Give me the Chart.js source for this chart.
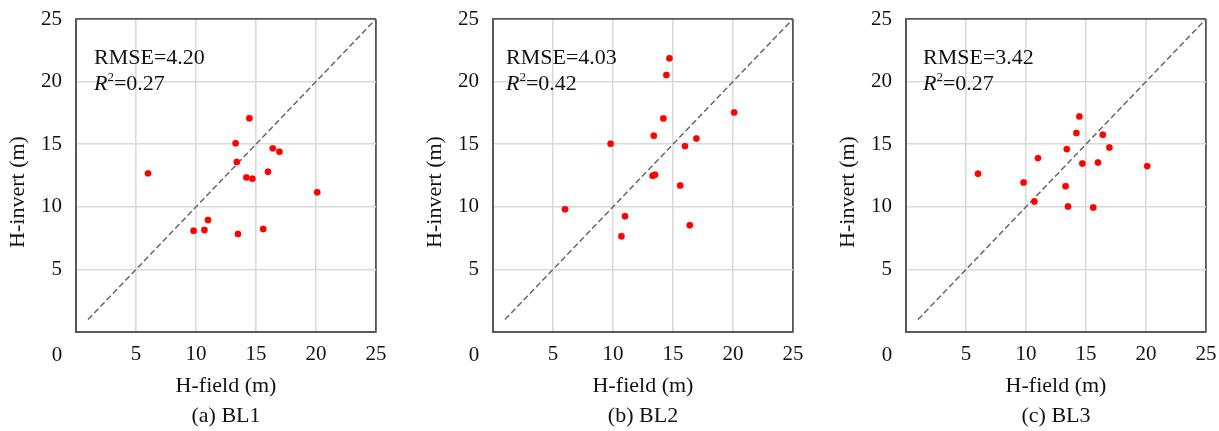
<!DOCTYPE html>
<html>
<head>
<meta charset="utf-8">
<script src="https://cdn.jsdelivr.net/npm/chart.js@4.4.1/dist/chart.umd.min.js"></script>
<style>
  body { margin: 0; background: #fff; width: 1219px; height: 431px; overflow: hidden; position: relative; }
  canvas { position: absolute; top: 0; }
</style>
</head>
<body>
<canvas id="bl1" width="389" height="431" style="left:0px"></canvas>
<canvas id="bl2" width="389" height="431" style="left:417px"></canvas>
<canvas id="bl3" width="389" height="431" style="left:830px"></canvas>
<script>
// H-field (m), same sites in every panel
var hField = [6.0, 9.8, 10.7, 11.0, 13.3, 13.4, 13.5, 14.2, 14.45, 14.7, 15.6, 16.0, 16.4, 16.95, 20.1];
// H-invert (m) for each borehole line
var invBL1 = [12.67, 8.09, 8.15, 8.95, 15.07, 13.58, 7.83, 12.35, 17.07, 12.25, 8.23, 12.8, 14.67, 14.4, 11.16];
var invBL2 = [9.81, 15.04, 7.65, 9.25, 12.48, 15.68, 12.56, 17.06, 20.53, 21.86, 11.7, 14.85, 8.53, 15.46, 17.54];
var invBL3 = [12.64, 11.94, 10.42, 13.89, 11.65, 14.61, 10.02, 15.89, 17.22, 13.46, 9.94, 13.54, 15.76, 14.74, 13.25];
var oneToOne = [1, 25];
var captions = ["(a) BL1", "(b) BL2", "(c) BL3"];
var rmseVals = ["4.20", "4.03", "3.42"];
var r2Vals = ["0.27", "0.42", "0.27"];

var FONT = '"Liberation Serif", "Times New Roman", serif';

var textPlugin = {
  id: "panelText",
  afterDraw: function(chart, args, opts) {
    var ctx = chart.ctx, a = chart.chartArea;
    ctx.save();
    ctx.fillStyle = "#111";
    ctx.textAlign = "left";
    ctx.textBaseline = "alphabetic";
    var x = a.left + opts.dx;
    ctx.font = "22px " + FONT;
    ctx.fillText("RMSE=" + opts.rmse, x, a.top + 45);
    ctx.font = "italic 22px " + FONT;
    ctx.fillText("R", x, a.top + 71);
    var w = ctx.measureText("R").width;
    ctx.font = "13px " + FONT;
    ctx.fillText("2", x + w, a.top + 62);
    var w2 = ctx.measureText("2").width;
    ctx.font = "22px " + FONT;
    ctx.fillText("=" + opts.r2, x + w + w2, a.top + 71);

    // corner zero label
    ctx.font = "21px " + FONT;
    ctx.textAlign = "center";
    ctx.textBaseline = "middle";
    ctx.fillText("0", a.left - 19, 355);

    // y axis title
    ctx.font = "22px " + FONT;
    ctx.translate(a.left - 58, 192);
    ctx.rotate(-Math.PI / 2);
    ctx.fillText("H-invert (m)", 0, 0);
    ctx.restore();
  }
};

function edge(c) {
  return c.tick && (c.tick.value === 0 || c.tick.value === 25);
}

function makePanel(id, yVals, idx, dx) {
  var pts = [];
  for (var i = 0; i < hField.length; i++) {
    pts.push({ x: hField[i], y: yVals[i] });
  }
  var diag = [{ x: oneToOne[0], y: oneToOne[0] }, { x: oneToOne[1], y: oneToOne[1] }];

  new Chart(document.getElementById(id), {
    type: "scatter",
    data: {
      datasets: [
        {
          data: pts,
          pointRadius: 3.2,
          pointBackgroundColor: "#ff0000",
          pointBorderColor: "rgba(255,0,0,0.35)",
          pointBorderWidth: 1
        },
        {
          data: diag,
          showLine: true,
          borderColor: "#666",
          borderWidth: 1.5,
          borderDash: [6, 3],
          pointRadius: 0
        }
      ]
    },
    options: {
      responsive: false,
      animation: false,
      layout: { padding: { left: 0, right: 13, top: 19, bottom: 0 } },
      plugins: {
        legend: { display: false },
        tooltip: { enabled: false },
        panelText: { dx: dx, rmse: rmseVals[idx], r2: r2Vals[idx] }
      },
      scales: {
        x: {
          type: "linear",
          min: 0,
          max: 25,
          afterFit: function(s) {
            s.height = 99;
            s.paddingLeft = 0;
            s.paddingRight = 0;
          },
          ticks: {
            stepSize: 5,
            padding: 10,
            color: "#111",
            font: { family: FONT, size: 21 },
            callback: function(v) { return v === 0 ? "" : v; }
          },
          grid: {
            drawTicks: false,
            color: function(c) { return edge(c) ? "#555" : "#dadada"; },
            lineWidth: function(c) { return edge(c) ? 1.8 : 1.6; }
          },
          border: { color: "#555", width: 1.8 },
          title: {
            display: true,
            text: ["H-field (m)", captions[idx]],
            color: "#111",
            padding: { top: 0, bottom: 0 },
            font: { family: FONT, size: 22, lineHeight: "30px" }
          }
        },
        y: {
          type: "linear",
          min: 0,
          max: 25,
          afterFit: function(s) {
            s.width = 76;
            s.paddingTop = 0;
            s.paddingBottom = 0;
          },
          ticks: {
            stepSize: 5,
            padding: 14,
            color: "#111",
            font: { family: FONT, size: 21 },
            callback: function(v) { return v === 0 ? "" : v; }
          },
          grid: {
            drawTicks: false,
            color: function(c) { return edge(c) ? "#555" : "#dadada"; },
            lineWidth: function(c) { return edge(c) ? 1.8 : 1.6; }
          },
          border: { color: "#555", width: 1.8 }
        }
      }
    },
    plugins: [textPlugin]
  });
}

makePanel("bl1", invBL1, 0, 18);
makePanel("bl2", invBL2, 1, 13);
makePanel("bl3", invBL3, 2, 17);
</script>
</body>
</html>
